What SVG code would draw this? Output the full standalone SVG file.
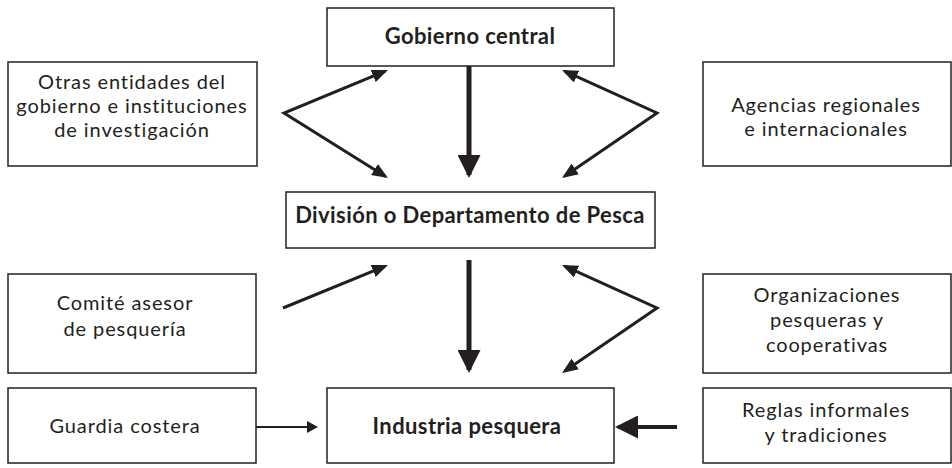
<svg xmlns="http://www.w3.org/2000/svg" width="952" height="468" viewBox="0 0 952 468">
<style>
.box{fill:#fff;stroke:#231f20;stroke-width:1.5}
.t{font-family:Lato,"Open Sans","Liberation Sans",sans-serif;font-size:20px;letter-spacing:0.9px;fill:#231f20;text-anchor:middle}
.b{font-weight:bold;font-size:22px;letter-spacing:0.4px}
.diag{fill:none;stroke:#231f20;stroke-width:3;stroke-linejoin:miter}
.thick{fill:none;stroke:#231f20;stroke-width:5}
.thin{fill:none;stroke:#231f20;stroke-width:2}
</style>
<defs>
<marker id="hd" viewBox="0 0 16 13" refX="13" refY="6.5" markerWidth="16" markerHeight="13" markerUnits="userSpaceOnUse" orient="auto-start-reverse"><path d="M0,0 L16,6.5 L0,13 z" fill="#231f20"/></marker>
<marker id="hb" viewBox="0 0 23 23" refX="20" refY="11.5" markerWidth="23" markerHeight="23" markerUnits="userSpaceOnUse" orient="auto"><path d="M0,0 L23,11.5 L0,23 z" fill="#231f20"/></marker>
<marker id="hs" viewBox="0 0 11 12" refX="9" refY="6" markerWidth="11" markerHeight="12" markerUnits="userSpaceOnUse" orient="auto"><path d="M0,0 L11,6 L0,12 z" fill="#231f20"/></marker>
</defs>
<rect width="952" height="468" fill="#fff"/>
<g id="connectors">
<path class="diag" d="M385.2,71.1 L284,113 L385.5,176.4" marker-start="url(#hd)" marker-end="url(#hd)"/>
<path class="diag" d="M564.7,71.2 L657,113 L564.5,176.3" marker-start="url(#hd)" marker-end="url(#hd)"/>
<path class="thick" d="M469,66 L469,175" marker-end="url(#hb)"/>
<path class="diag" d="M283,308 L385.2,266.1" marker-end="url(#hd)"/>
<path class="diag" d="M564.7,266.2 L657,308 L564.5,371.3" marker-start="url(#hd)" marker-end="url(#hd)"/>
<path class="thick" d="M469,260 L469,370" marker-end="url(#hb)"/>
<path class="thin" d="M256,427 L316,427" marker-end="url(#hs)"/>
<path class="thick" style="stroke-width:4" d="M677,427 L618,427" marker-end="url(#hb)"/>
</g>
<g id="gobierno">
<rect class="box" x="327" y="8" width="287" height="58"/>
<text class="t b" x="470" y="44">Gobierno central</text>
</g>
<g id="otras">
<rect class="box" x="8" y="62" width="249" height="104"/>
<text class="t" x="132" y="89">Otras entidades del</text>
<text class="t" x="132" y="113">gobierno e instituciones</text>
<text class="t" x="132" y="137">de investigación</text>
</g>
<g id="agencias">
<rect class="box" x="703" y="62" width="248" height="104"/>
<text class="t" x="826" y="112">Agencias regionales</text>
<text class="t" x="826" y="136">e internacionales</text>
</g>
<g id="division">
<rect class="box" x="286" y="192" width="369" height="56"/>
<text class="t b" x="470" y="223">División o Departamento de Pesca</text>
</g>
<g id="comite">
<rect class="box" x="8" y="274" width="248" height="99"/>
<text class="t" x="125" y="310">Comité asesor</text>
<text class="t" x="125" y="336">de pesquería</text>
</g>
<g id="organizaciones">
<rect class="box" x="703" y="274" width="248" height="99"/>
<text class="t" x="827" y="302">Organizaciones</text>
<text class="t" x="827" y="327">pesqueras y</text>
<text class="t" x="827" y="352">cooperativas</text>
</g>
<g id="guardia">
<rect class="box" x="8" y="388" width="248" height="75"/>
<text class="t" x="125" y="433">Guardia costera</text>
</g>
<g id="industria">
<rect class="box" x="327" y="388" width="287" height="75"/>
<text class="t b" x="467" y="434">Industria pesquera</text>
</g>
<g id="reglas">
<rect class="box" x="703" y="388" width="248" height="75"/>
<text class="t" x="826" y="417">Reglas informales</text>
<text class="t" x="826" y="442">y tradiciones</text>
</g>
</svg>
